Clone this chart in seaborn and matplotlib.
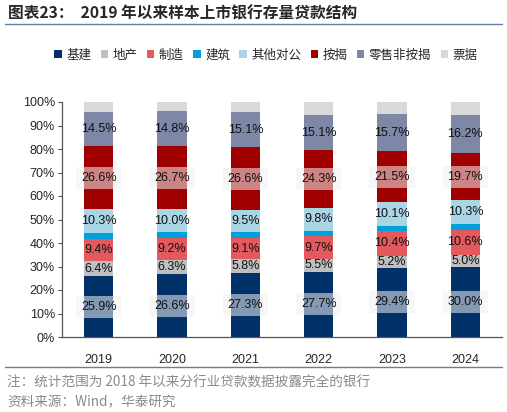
import numpy as np
import pandas as pd
import matplotlib
matplotlib.use("Agg")
import matplotlib.pyplot as plt
import seaborn as sns
from matplotlib.patches import Patch
from matplotlib.lines import Line2D

years = ["2019", "2020", "2021", "2022", "2023", "2024"]
series_names = ["基建", "地产", "制造", "建筑", "其他对公", "按揭", "零售非按揭", "票据"]
infra = [25.9, 26.6, 27.3, 27.7, 29.4, 30.0]
realty = [6.4, 6.3, 5.8, 5.5, 5.2, 5.0]
manuf = [9.4, 9.2, 9.1, 9.7, 10.4, 10.6]
constr = [2.5, 2.4, 2.4, 2.4, 2.4, 2.5]
other_corp = [10.3, 10.0, 9.5, 9.8, 10.1, 10.3]
mortgage = [26.6, 26.7, 26.6, 24.3, 21.5, 19.7]
retail_other = [14.5, 14.8, 15.1, 15.1, 15.7, 16.2]
bills = [4.4, 4.0, 4.2, 5.5, 5.3, 5.7]

colors = ["#003169", "#BFBFBF", "#E3595D", "#00A1DA", "#A9D5E4", "#A00000", "#7F87A6", "#D9D9D9"]
labeled = [True, True, True, False, True, True, True, False]
boxed = [True, False, False, False, False, True, False, False]

sns.set_theme(style="white")
plt.rcParams["font.family"] = ["Noto Sans CJK SC", "DejaVu Sans"]
num_font = ["Liberation Sans", "DejaVu Sans"]

df = pd.DataFrame(
    [infra, realty, manuf, constr, other_corp, mortgage, retail_other, bills],
    index=series_names, columns=years,
).T
cum = df.cumsum(axis=1)

fig = plt.figure(figsize=(5.07, 4.12), dpi=100)
ax = fig.add_axes([62 / 507, 1 - 337 / 412, 440 / 507, 235 / 412])

# draw from the top layer down so each cumulative bar covers the one above
for i in reversed(range(len(series_names))):
    name = series_names[i]
    sns.barplot(x=years, y=cum[name].values, color=colors[i], width=0.4,
                ax=ax, saturation=1, edgecolor="none")

for i, name in enumerate(series_names):
    if not labeled[i]:
        continue
    for j, yr in enumerate(years):
        v = df.loc[yr, name]
        mid = cum.loc[yr, name] - v / 2
        kw = {}
        if boxed[i]:
            kw["bbox"] = dict(boxstyle="square,pad=0.4", facecolor="#f2f2f2",
                              edgecolor="none", alpha=0.55)
        ax.text(j, mid, f"{v:.1f}%", ha="center", va="center", fontsize=9,
                color="#111111", family=num_font, **kw)

ax.set_ylim(0, 100)
ax.set_xlim(-0.5, 5.5)
ax.set_yticks(np.arange(0, 101, 10))
ax.set_yticklabels([f"{t}%" for t in range(0, 101, 10)], family=num_font)
ax.tick_params(axis="y", left=True, length=3, width=0.8, color="#555555", labelsize=9, pad=2)
ax.tick_params(axis="x", bottom=False, labelsize=9, pad=6)
for lab in ax.get_xticklabels():
    lab.set_family(num_font)
for s in ["top", "right"]:
    ax.spines[s].set_visible(False)
for s in ["left", "bottom"]:
    ax.spines[s].set_color("#555555")
    ax.spines[s].set_linewidth(0.9)
ax.set_xlabel("")
ax.set_ylabel("")

handles = [Patch(facecolor=c, edgecolor="none") for c in colors]
fig.legend(handles, series_names, loc="center", bbox_to_anchor=(266 / 507, 1 - 55 / 412),
           ncol=8, frameon=False, fontsize=9, handlelength=0.6, handleheight=0.6,
           handletextpad=0.35, columnspacing=0.75)

fig.text(8 / 507, 1 - 14 / 412, "图表23：  2019 年以来样本上市银行存量贷款结构",
         fontsize=11.3, fontweight="bold", va="center", ha="left")
fig.add_artist(Line2D([5 / 507, 502 / 507], [1 - 23.5 / 412] * 2, color="#5F7FA8", lw=1))
fig.add_artist(Line2D([5 / 507, 502 / 507], [1 - 367 / 412] * 2, color="#5F7FA8", lw=1))
fig.text(7 / 507, 1 - 382 / 412, "注：统计范围为 2018 年以来分行业贷款数据披露完全的银行",
         fontsize=9.8, color="#8a8a8a", va="center", ha="left")
fig.text(7 / 507, 1 - 402 / 412, "资料来源：Wind，华泰研究",
         fontsize=9.8, color="#8a8a8a", va="center", ha="left")

fig.savefig("out.png", dpi=100)
